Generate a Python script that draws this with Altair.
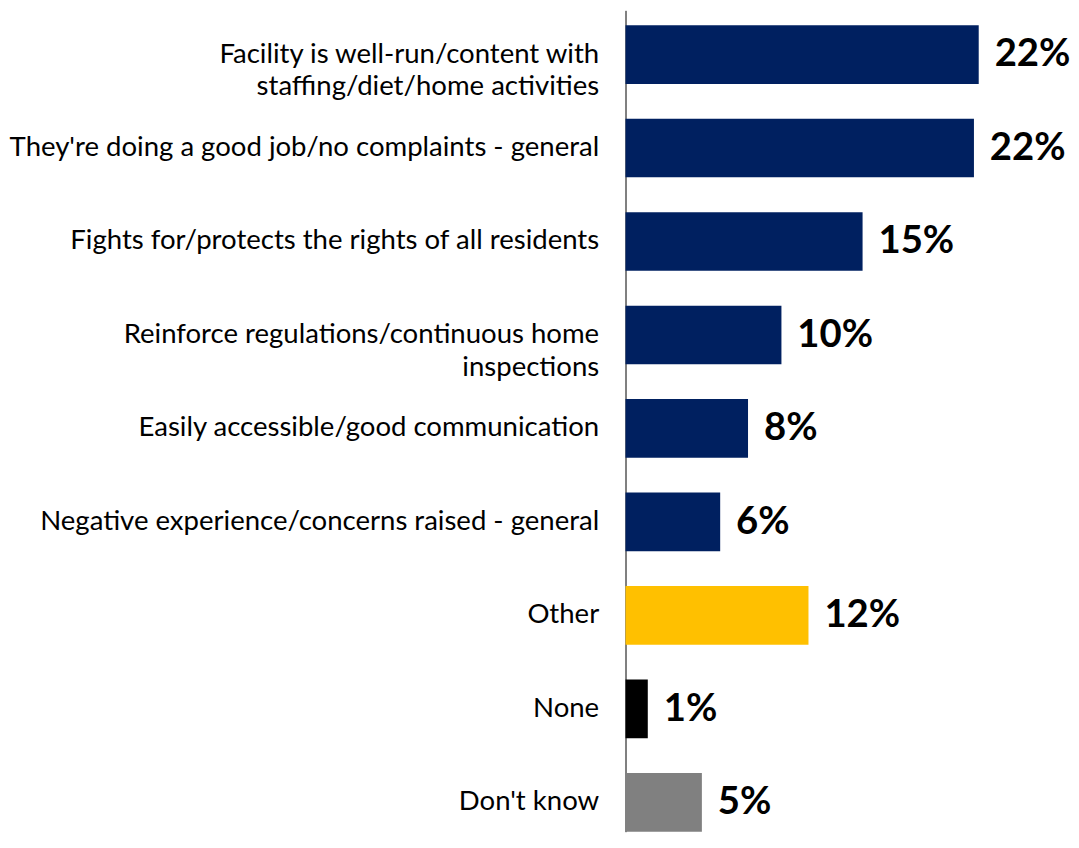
import altair as alt
import pandas as pd

categories = [
    "Facility is well-run/content with\nstaffing/diet/home activities",
    "They're doing a good job/no complaints - general",
    "Fights for/protects the rights of all residents",
    "Reinforce regulations/continuous home\ninspections",
    "Easily accessible/good communication",
    "Negative experience/concerns raised - general",
    "Other",
    "None",
    "Don't know",
]
values = [22.2, 21.9, 14.9, 9.8, 7.7, 5.95, 11.5, 1.4, 4.8]
labels = ["22%", "22%", "15%", "10%", "8%", "6%", "12%", "1%", "5%"]
colors = ["#002060", "#002060", "#002060", "#002060", "#002060", "#002060",
          "#FFC000", "#000000", "#808080"]

df = pd.DataFrame({"category": categories, "value": values,
                   "label": labels, "color": colors})

yscale = alt.Scale(paddingInner=0.3723, paddingOuter=0.0797, align=1, round=False)
yaxis = alt.Axis(
    title=None,
    labelExpr="split(datum.label, '\\n')",
    ticks=False, tickSize=0, labelPadding=27,
    labelFont="Lato", labelFontSize=27.7, labelColor="#000000",
    labelLineHeight=33, labelLimit=700,
    labelAlign="right", labelBaseline="middle",
    domainColor="#000000", domainWidth=1,
    minExtent=621, maxExtent=621, grid=False,
)
x = alt.X("value:Q", scale=alt.Scale(domain=[0, 27], nice=False, zero=True), axis=None)
y = alt.Y("category:N", sort=categories, scale=yscale, axis=yaxis)

bars = alt.Chart(df).mark_bar().encode(
    x=x, y=y, color=alt.Color("color:N", scale=None)
)
text = alt.Chart(df).mark_text(
    align="left", baseline="middle", dx=16,
    font="Lato", fontSize=38.5, fontWeight="bold", color="#000000"
).encode(x=x, y=y, text="label:N")

chart = (bars + text).properties(width=432, height=826, padding=0).configure_view(stroke=None)
chart.save("out.html", embed_options={"renderer": "svg", "actions": False})
